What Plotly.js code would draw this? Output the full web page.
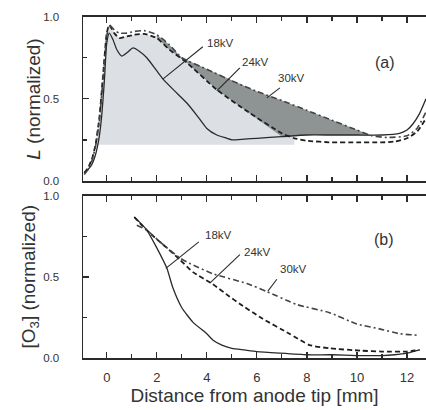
<!DOCTYPE html>
<html>
<head>
<meta charset="utf-8">
<script src="https://cdn.plot.ly/plotly-3.0.1.min.js"></script>
<style>
html,body{margin:0;padding:0;background:#fff;overflow:hidden;}
#plot{width:426px;height:410px;}
</style>
</head>
<body>
<div id="plot"></div>
<script>
// ---- Data ----
// Panel (a): normalized luminosity L vs distance from anode tip [mm]
const xL18 = [-0.9,-0.75,-0.6,-0.45,-0.3,-0.2,-0.1,0.0,0.1,0.25,0.4,0.6,0.8,1.05,1.3,1.6,2.0,2.25,2.7,3.2,3.6,4.0,4.4,4.8,5.0,5.5,6.0,7.0,8.0,9.0,10.0,11.0,11.7,12.0,12.25,12.5,12.76];
const yL18 = [0.05,0.07,0.10,0.16,0.27,0.40,0.60,0.84,0.90,0.86,0.80,0.76,0.78,0.81,0.79,0.75,0.67,0.62,0.55,0.475,0.40,0.32,0.28,0.26,0.25,0.255,0.26,0.27,0.28,0.28,0.28,0.28,0.29,0.31,0.35,0.41,0.50];

const xL24 = [-0.9,-0.75,-0.6,-0.45,-0.3,-0.15,0.0,0.1,0.3,0.5,0.8,1.1,1.5,2.0,2.5,3.2,4.4,5.7,7.0,7.5,8.0,9.0,10.0,11.0,11.5,12.0,12.4,12.76];
const yL24 = [0.05,0.08,0.13,0.22,0.38,0.64,0.90,0.95,0.90,0.87,0.88,0.89,0.895,0.87,0.80,0.72,0.555,0.415,0.29,0.26,0.245,0.235,0.235,0.235,0.24,0.26,0.30,0.38];

const xL30 = [-0.9,-0.75,-0.6,-0.45,-0.3,-0.15,0.0,0.1,0.3,0.5,0.8,1.1,1.5,2.0,2.5,3.0,4.0,5.0,6.0,7.0,8.0,9.0,10.0,10.6,11.2,12.0,12.4,12.76];
const yL30 = [0.04,0.07,0.12,0.21,0.36,0.62,0.88,0.95,0.92,0.90,0.90,0.91,0.915,0.89,0.83,0.75,0.68,0.61,0.545,0.49,0.43,0.37,0.31,0.275,0.265,0.275,0.32,0.42];

// Panel (b): normalized ozone concentration [O3]
const xO18 = [1.1,1.3,1.6,2.0,2.4,2.65,3.0,3.45,4.0,4.25,4.6,5.0,5.5,6.0,6.9,8.0,9.0,10.0,11.0,11.5,12.0,12.5];
const yO18 = [0.87,0.84,0.79,0.68,0.555,0.43,0.31,0.22,0.15,0.11,0.08,0.06,0.05,0.04,0.03,0.02,0.02,0.015,0.015,0.02,0.03,0.05];

const xO24 = [1.1,1.4,1.8,2.4,2.9,3.45,4.24,4.9,5.31,6.2,7.3,8.1,8.9,10.2,11.0,12.0,12.5];
const yO24 = [0.87,0.82,0.76,0.68,0.61,0.53,0.455,0.38,0.335,0.245,0.15,0.08,0.06,0.045,0.04,0.04,0.05];

const xO30 = [1.2,1.6,2.1,2.9,3.3,4.24,5.6,6.4,7.6,8.9,10.0,10.9,11.7,12.5];
const yO30 = [0.82,0.79,0.72,0.62,0.585,0.52,0.46,0.41,0.33,0.28,0.21,0.18,0.15,0.14];

const seriesNames = ['18kV','24kV','30kV'];
const panelLabels = ['(a)','(b)'];
const axisTitles = ['<i>L</i> (normalized)', '[O<sub>3</sub>] (normalized)', 'Distance from anode tip [mm]'];
const yTickVals = [0, 0.5, 1.0];
const yTickText = ['0.0','0.5','1.0'];
const fillFloor = 0.22;   // lower edge of the shaded region in (a)

// ---- helpers to build shaded polygons from the series ----
function between(xs, ys, lo, hi){
  const px=[],py=[];
  xs.forEach((x,i)=>{ if(x>=lo && x<=hi){px.push(x);py.push(ys[i]);} });
  return {x:px,y:py};
}
const lightTop = between(xL24,yL24,-0.45,7.5);
const lightX = lightTop.x.concat([7.5,-0.45]);
const lightY = lightTop.y.concat([fillFloor,fillFloor]);

const darkTop = between(xL30,yL30,2.0,10.6);
const darkLowA = between(xL18,yL18,7.0,10.6);
const darkLowB = between(xL24,yL24,2.0,6.99);
const darkX = darkTop.x.concat(darkLowA.x.slice().reverse(), darkLowB.x.slice().reverse());
const darkY = darkTop.y.concat(darkLowA.y.slice().reverse(), darkLowB.y.slice().reverse());

const ink = '#2a2a2a';
const txt = '#333';
const FONT = 'Liberation Sans, Arial, Helvetica, sans-serif';

const st18 = {color:ink, width:1.3, dash:'solid', shape:'spline', smoothing:0.5};
const st24 = {color:'#1e1e1e', width:1.8, dash:'5px,3px', shape:'spline', smoothing:0.5};
const st30 = {color:'#444', width:1.6, dash:'6px,3px,2px,3px', shape:'spline', smoothing:0.5};

const traces = [
  {x:lightX, y:lightY, type:'scatter', mode:'lines', fill:'toself', fillcolor:'#dce0e5', line:{width:0}, hoverinfo:'skip', xaxis:'x', yaxis:'y'},
  {x:darkX, y:darkY, type:'scatter', mode:'lines', fill:'toself', fillcolor:'#8e9393', line:{width:0}, hoverinfo:'skip', xaxis:'x', yaxis:'y'},
  {x:xL18, y:yL18, name:seriesNames[0], type:'scatter', mode:'lines', line:st18, xaxis:'x', yaxis:'y'},
  {x:xL24, y:yL24, name:seriesNames[1], type:'scatter', mode:'lines', line:st24, xaxis:'x', yaxis:'y'},
  {x:xL30, y:yL30, name:seriesNames[2], type:'scatter', mode:'lines', line:st30, xaxis:'x', yaxis:'y'},
  {x:xO18, y:yO18, name:seriesNames[0], type:'scatter', mode:'lines', line:st18, xaxis:'x2', yaxis:'y2'},
  {x:xO24, y:yO24, name:seriesNames[1], type:'scatter', mode:'lines', line:st24, xaxis:'x2', yaxis:'y2'},
  {x:xO30, y:yO30, name:seriesNames[2], type:'scatter', mode:'lines', line:st30, xaxis:'x2', yaxis:'y2'}
];

const xCommon = {
  range:[-0.95,12.76], showgrid:false, zeroline:false,
  showline:true, linecolor:ink, linewidth:1.5, mirror:'ticks',
  ticks:'inside', ticklen:6, tickwidth:1.2, tickcolor:ink,
  dtick:2, tick0:0,
  minor:{dtick:1, ticks:'inside', ticklen:4, tickwidth:1.2, tickcolor:ink}
};
const yCommon = {
  range:[0,1], showgrid:false, zeroline:false,
  showline:true, linecolor:ink, linewidth:1.5, mirror:false,
  ticks:'inside', ticklen:6, tickwidth:1.2, tickcolor:ink,
  tickvals:yTickVals, ticktext:yTickText,
  tickfont:{family:FONT, size:11.5, color:txt},
  ticklabelstandoff:20,
  minor:{dtick:0.25, ticks:'inside', ticklen:4, tickwidth:1.2, tickcolor:ink}
};

const titleFont = {family:FONT, size:19, color:txt};
const layout = {
  width:426, height:410,
  margin:{l:83, r:0, t:0, b:0},
  paper_bgcolor:'#fff', plot_bgcolor:'rgba(0,0,0,0)',
  showlegend:false,
  font:{family:FONT, color:txt},
  xaxis: Object.assign({}, xCommon, {domain:[0,1], anchor:'y', showticklabels:false}),
  yaxis: Object.assign({}, yCommon, {domain:[0.5585,0.9593], anchor:'x'}),
  xaxis2: Object.assign({}, xCommon, {domain:[0,1], anchor:'y2', showticklabels:true,
          tickfont:{family:FONT, size:13, color:txt}, ticklabelstandoff:7,
          title:{text:axisTitles[2], font:titleFont, standoff:4}}),
  yaxis2: Object.assign({}, yCommon, {domain:[0.1268,0.5220], anchor:'x2'}),
  annotations:[
    {xref:'paper', yref:'paper', x:-0.143, y:0.759, text:axisTitles[0], textangle:-90, showarrow:false, xanchor:'center', yanchor:'middle', font:titleFont},
    {xref:'paper', yref:'paper', x:-0.155, y:0.325, text:axisTitles[1], textangle:-90, showarrow:false, xanchor:'center', yanchor:'middle', font:titleFont},
    {xref:'x', yref:'y', x:3.92, y:0.84, text:seriesNames[0], showarrow:false, xanchor:'left', yanchor:'middle', font:{family:FONT,size:11.5,color:txt}},
    {xref:'x', yref:'y', x:5.32, y:0.726, text:seriesNames[1], showarrow:false, xanchor:'left', yanchor:'middle', font:{family:FONT,size:11.5,color:txt}},
    {xref:'x', yref:'y', x:6.76, y:0.628, text:seriesNames[2], showarrow:false, xanchor:'left', yanchor:'middle', font:{family:FONT,size:11.5,color:txt}},
    {xref:'x', yref:'y', x:11.12, y:0.72, text:panelLabels[0], showarrow:false, font:{family:FONT,size:16,color:txt}},
    {xref:'x2', yref:'y2', x:3.84, y:0.759, text:seriesNames[0], showarrow:false, xanchor:'left', yanchor:'middle', font:{family:FONT,size:11.5,color:txt}},
    {xref:'x2', yref:'y2', x:5.4, y:0.656, text:seriesNames[1], showarrow:false, xanchor:'left', yanchor:'middle', font:{family:FONT,size:11.5,color:txt}},
    {xref:'x2', yref:'y2', x:6.84, y:0.547, text:seriesNames[2], showarrow:false, xanchor:'left', yanchor:'middle', font:{family:FONT,size:11.5,color:txt}},
    {xref:'x2', yref:'y2', x:11.08, y:0.729, text:panelLabels[1], showarrow:false, font:{family:FONT,size:16,color:txt}}
  ],
  shapes:[
    {type:'line', xref:'x', yref:'y', x0:2.24, y0:0.62, x1:3.84, y1:0.817, line:{color:ink,width:1.1}},
    {type:'line', xref:'x', yref:'y', x0:4.4, y0:0.549, x1:5.32, y1:0.689, line:{color:ink,width:1.1}},
    {type:'line', xref:'x', yref:'y', x0:6.4, y0:0.506, x1:6.92, y1:0.567, line:{color:ink,width:1.1}},
    {type:'line', xref:'x2', yref:'y2', x0:2.36, y0:0.553, x1:3.68, y1:0.717, line:{color:ink,width:1.1}},
    {type:'line', xref:'x2', yref:'y2', x0:4.12, y0:0.462, x1:5.32, y1:0.638, line:{color:ink,width:1.1}},
    {type:'line', xref:'x2', yref:'y2', x0:6.44, y0:0.413, x1:6.8, y1:0.486, line:{color:ink,width:1.1}}
  ]
};

Plotly.newPlot('plot', traces, layout, {staticPlot:true, displayModeBar:false});
</script>
</body>
</html>
